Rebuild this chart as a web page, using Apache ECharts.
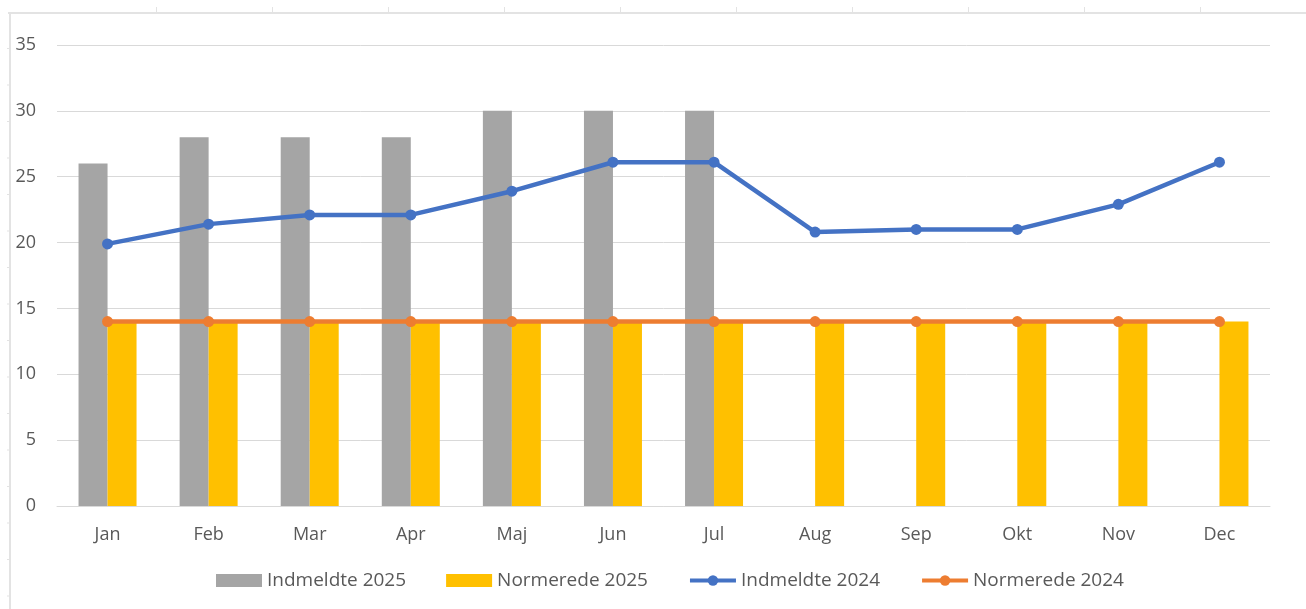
<!DOCTYPE html>
<html>
<head>
<meta charset="utf-8">
<script src="https://cdn.jsdelivr.net/npm/echarts@6/dist/echarts.min.js"></script>
<style>
  html, body { margin: 0; padding: 0; background: #ffffff; }
  #main { width: 1306px; height: 609px; }
</style>
</head>
<body>
<div id="main"></div>
<script>
// data
var months = ['Jan', 'Feb', 'Mar', 'Apr', 'Maj', 'Jun', 'Jul', 'Aug', 'Sep', 'Okt', 'Nov', 'Dec']
var indmeldte2025 = [26, 28, 28, 28, 30, 30, 30, null, null, null, null, null]
var normerede2025 = [14, 14, 14, 14, 14, 14, 14, 14, 14, 14, 14, 14]
var indmeldte2024 = [19.9, 21.4, 22.1, 22.1, 23.9, 26.1, 26.1, 20.8, 21, 21, 22.9, 26.1]
var normerede2024 = [14, 14, 14, 14, 14, 14, 14, 14, 14, 14, 14, 14]

var txt = '#595959'
var frameColor = '#e3e3e3'

// sheet border round the chart (cell lines of the spreadsheet behind it)
var frame = [
  { type: 'line', shape: { x1: 8, y1: 13, x2: 1306, y2: 13 }, style: { stroke: frameColor, lineWidth: 2 } },
  { type: 'line', shape: { x1: 10, y1: 13, x2: 10, y2: 609 }, style: { stroke: frameColor, lineWidth: 2 } }
]
for (var i = 0; i < 10; i++) {
  var x = 156.5 + i * 116
  frame.push({ type: 'line', shape: { x1: x, y1: 7, x2: x, y2: 13 }, style: { stroke: frameColor, lineWidth: 1 } })
}
for (var j = 0; j < 16; j++) {
  var y = 48.5 + j * 36.5
  if (y > 609) break
  frame.push({ type: 'line', shape: { x1: 7, y1: y, x2: 10, y2: y }, style: { stroke: frameColor, lineWidth: 1 } })
}

var chart = echarts.init(document.getElementById('main'))
var option = {
  animation: false,
  textStyle: { fontFamily: 'Open Sans', color: txt },
  graphic: frame,
  grid: { left: 57, right: 36, top: 45, bottom: 103 },
  legend: {
    top: 566,
    left: 211,
    itemGap: 40,
    itemWidth: 46,
    itemHeight: 13,
    lineStyle: { width: 4 },
    textStyle: { color: txt, fontSize: 19, fontFamily: 'Open Sans' },
    data: [
      { name: 'Indmeldte 2025', icon: 'rect' },
      { name: 'Normerede 2025', icon: 'rect' },
      { name: 'Indmeldte 2024' },
      { name: 'Normerede 2024' }
    ]
  },
  xAxis: {
    type: 'category',
    data: months,
    axisLine: { lineStyle: { color: '#d9d9d9' } },
    axisTick: { show: false },
    axisLabel: { color: txt, fontSize: 18, margin: 20 }
  },
  yAxis: {
    type: 'value',
    min: 0,
    max: 35,
    interval: 5,
    axisLine: { show: false },
    axisTick: { show: false },
    axisLabel: { color: txt, fontSize: 18, margin: 21 },
    splitLine: { lineStyle: { color: '#d9d9d9', width: 1 } }
  },
  series: [
    {
      name: 'Indmeldte 2025',
      type: 'bar',
      data: indmeldte2025,
      barWidth: 29,
      barGap: '0%',
      itemStyle: { color: '#a5a5a5' }
    },
    {
      name: 'Normerede 2025',
      type: 'bar',
      data: normerede2025,
      barWidth: 29,
      barGap: '0%',
      itemStyle: { color: '#ffc000' }
    },
    {
      name: 'Indmeldte 2024',
      type: 'line',
      data: indmeldte2024,
      symbol: 'circle',
      symbolSize: 11,
      lineStyle: { color: '#4472c4', width: 4.5 },
      itemStyle: { color: '#4472c4' }
    },
    {
      name: 'Normerede 2024',
      type: 'line',
      data: normerede2024,
      symbol: 'circle',
      symbolSize: 11,
      lineStyle: { color: '#ed7d31', width: 4.5 },
      itemStyle: { color: '#ed7d31' }
    }
  ]
}
chart.setOption(option)
</script>
</body>
</html>
